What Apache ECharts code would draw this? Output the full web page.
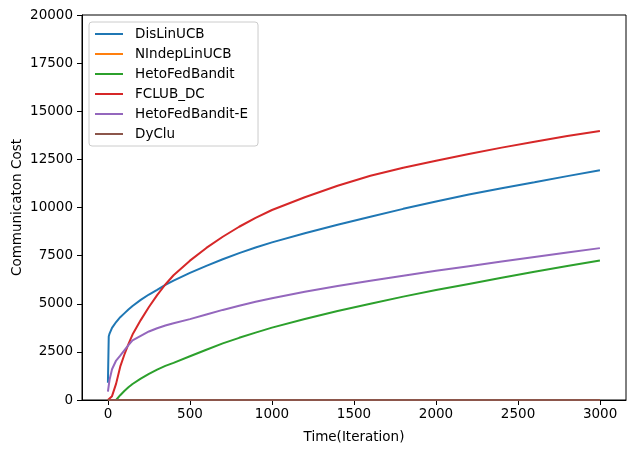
<!DOCTYPE html>
<html>
<head>
<meta charset="utf-8">
<script src="https://cdn.jsdelivr.net/npm/echarts@6/dist/echarts.min.js"></script>
<style>html,body{margin:0;padding:0;background:#fff;}#c{width:635px;height:453px;}</style>
</head>
<body>
<div id="c"></div>
<script>
var times = [0,5,10,25,50,75,100,125,150,200,250,300,350,400,500,600,700,800,900,1000,1200,1400,1600,1800,2000,2200,2400,2600,2800,2999];
var disLinUCB = [900,3300,3450,3750,4050,4300,4500,4700,4880,5200,5480,5720,5980,6200,6600,6970,7310,7630,7920,8190,8660,9100,9520,9930,10310,10670,11000,11310,11630,11930];
var nIndepLinUCB = [0,0,0,0,0,0,0,0,0,0,0,0,0,0,0,0,0,0,0,0,0,0,0,0,0,0,0,0,0,0];
var hetoFedBandit = [0,0,0,0,0,250,470,660,830,1110,1360,1580,1770,1930,2270,2610,2940,3230,3500,3760,4210,4620,5000,5370,5710,6030,6350,6660,6960,7250];
var fclubDC = [0,20,100,200,850,1730,2350,2900,3400,4150,4830,5450,6000,6480,7240,7900,8480,9000,9460,9870,10530,11130,11650,12060,12430,12780,13110,13420,13710,13975];
var hetoFedBanditE = [430,750,1050,1600,2050,2300,2580,2850,3100,3330,3560,3730,3870,3990,4200,4440,4680,4900,5100,5290,5620,5920,6200,6460,6710,6950,7190,7430,7660,7890];
var dyClu = [0,0,0,0,0,0,0,0,0,0,0,0,0,0,0,0,0,0,0,0,0,0,0,0,0,0,0,0,0,0];
var xTicks = [0,500,1000,1500,2000,2500,3000];
var names = ['DisLinUCB','NIndepLinUCB','HetoFedBandit','FCLUB_DC','HetoFedBandit-E','DyClu'];
var colors = ['#1f77b4','#ff7f0e','#2ca02c','#d62728','#9467bd','#8c564b'];
var values = [disLinUCB, nIndepLinUCB, hetoFedBandit, fclubDC, hetoFedBanditE, dyClu];

var font = 'DejaVu Sans';
var fs = 13.5;
var series = names.map(function(n, i){
  return {
    name: n, type: 'line', symbol: 'none', animation: false,
    lineStyle: {color: colors[i], width: 2},
    itemStyle: {color: colors[i]},
    data: times.map(function(t, j){ return [t, values[i][j]]; })
  };
});
var chart = echarts.init(document.getElementById('c'), null, {renderer: 'canvas'});
chart.setOption({
  animation: false,
  backgroundColor: '#fff',
  textStyle: {fontFamily: font},
  grid: {left: 82, right: 9, top: 15, bottom: 53, outerBoundsMode: 'none', containLabel: false,
         show: true, borderColor: '#000', borderWidth: 1, backgroundColor: 'transparent'},
  legend: {
    orient: 'vertical', left: 89, top: 22,
    data: names,
    icon: 'rect', itemWidth: 28, itemHeight: 2, itemGap: 6,
    padding: [5, 10, 5, 6],
    backgroundColor: 'rgba(255,255,255,0.8)',
    borderColor: '#cccccc', borderWidth: 1, borderRadius: 3,
    textStyle: {fontFamily: font, fontSize: fs, color: '#000', lineHeight: 14, padding: [0,0,0,7]}
  },
  xAxis: {
    type: 'value', min: -158, max: 3158,
    name: 'Time(Iteration)', nameLocation: 'middle', nameGap: 30, nameMoveOverlap: false,
    nameTextStyle: {fontFamily: font, fontSize: fs, color: '#000'},
    axisLine: {show: true, onZero: false, lineStyle: {color: '#000', width: 1}},
    axisTick: {show: true, length: 5, lineStyle: {color: '#000'}, customValues: xTicks},
    axisLabel: {fontFamily: font, fontSize: fs, color: '#000', margin: 7, customValues: xTicks,
                formatter: function(v){ return String(v); }},
    splitLine: {show: false}
  },
  yAxis: {
    type: 'value', min: 0, max: 20000, interval: 2500,
    name: 'Communicaton Cost', nameLocation: 'middle', nameGap: 58, nameRotate: 90, nameMoveOverlap: false,
    nameTextStyle: {fontFamily: font, fontSize: fs, color: '#000'},
    axisLine: {show: true, onZero: false, lineStyle: {color: '#000', width: 1}},
    axisTick: {show: true, length: 5, lineStyle: {color: '#000'}},
    axisLabel: {fontFamily: font, fontSize: fs, color: '#000', margin: 9,
                formatter: function(v){ return String(v); }},
    splitLine: {show: false}
  },
  series: series
});
</script>
</body>
</html>
